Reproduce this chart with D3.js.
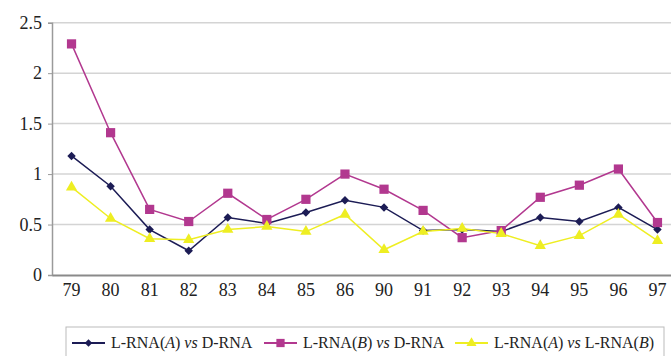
<!DOCTYPE html>
<html><head><meta charset="utf-8">
<script src="https://cdn.jsdelivr.net/npm/d3@7"></script>
<style>body{margin:0;background:#fff}svg{display:block}
svg text{font-family:"Liberation Serif","Times New Roman",Tinos,"DejaVu Serif",serif !important;}</style>
</head><body>
<svg id="c" width="671" height="356"></svg>
<script>
const categories = ["79","80","81","82","83","84","85","86","90","91","92","93","94","95","96","97"];
const seriesA_D = [1.18,0.88,0.45,0.24,0.57,0.51,0.62,0.74,0.67,0.44,0.45,0.43,0.57,0.53,0.67,0.45];
const seriesB_D = [2.29,1.41,0.65,0.53,0.81,0.55,0.75,1.00,0.85,0.64,0.37,0.44,0.77,0.89,1.05,0.52];
const seriesA_B = [0.87,0.56,0.36,0.35,0.45,0.48,0.43,0.60,0.25,0.43,0.46,0.41,0.29,0.39,0.60,0.34];
const yTicks = [0,0.5,1,1.5,2,2.5];

(function(){
const svg = d3.select("#c");
const pLeft = 52, pRight = 677, pTop = 22.7, pBottom = 275;
const x = d3.scaleBand().domain(categories).range([pLeft, pRight]);
const y = d3.scaleLinear().domain([0,2.5]).range([pBottom, pTop]);

svg.append("g").selectAll("line").data(yTicks.filter(d=>d>0)).join("line")
  .attr("x1", pLeft).attr("x2", pRight).attr("y1", d=>y(d)).attr("y2", d=>y(d))
  .attr("stroke", "#d4d4d4").attr("stroke-width", 1.5);

const yAxis = svg.append("g").attr("transform", `translate(${pLeft},0)`)
  .call(d3.axisLeft(y).tickValues(yTicks).tickSize(4).tickPadding(6).tickFormat(d=>String(d)));
yAxis.attr("font-family", null);
yAxis.select(".domain").attr("stroke", "#9a9a9a").attr("stroke-width", 1.5);
yAxis.selectAll(".tick line").attr("stroke", "#9a9a9a");
yAxis.selectAll("text").attr("font-size", 18).attr("fill", "#222");

const xAxis = svg.append("g").attr("transform", `translate(0,${pBottom})`)
  .call(d3.axisBottom(x).tickSize(0).tickPadding(8));
xAxis.attr("font-family", null);
xAxis.select(".domain").attr("stroke", "#8a8a8a").attr("stroke-width", 2);
xAxis.selectAll("text").attr("font-size", 18).attr("fill", "#222");

const cx = d => x(d) + x.bandwidth()/2;
const diamond = {draw(ctx, size){ const r = Math.sqrt(size/2); ctx.moveTo(0,-r); ctx.lineTo(r,0); ctx.lineTo(0,r); ctx.lineTo(-r,0); ctx.closePath(); }};
const series = [
  {values:seriesA_D, color:"#1c1c55", sym:diamond, size:36, lw:1.5},
  {values:seriesB_D, color:"#b2388f", sym:d3.symbolSquare, size:85, lw:1.5},
  {values:seriesA_B, color:"#eeee22", sym:d3.symbolTriangle, size:55, lw:1.5}
];
const line = d3.line().x((d,i)=>cx(categories[i])).y(d=>y(d));
series.forEach(s => {
  svg.append("path").attr("d", line(s.values)).attr("fill","none")
    .attr("stroke", s.color).attr("stroke-width", s.lw);
});
series.forEach(s => {
  svg.append("g").selectAll("path").data(s.values).join("path")
    .attr("d", d3.symbol().type(s.sym).size(s.size))
    .attr("transform", (d,i)=>`translate(${cx(categories[i])},${y(d)})`)
    .attr("fill", s.color);
});

const lg = svg.append("g");
lg.append("rect").attr("x", 66).attr("y", 327).attr("width", 598).attr("height", 40)
  .attr("fill", "#fff").attr("stroke", "#bbb").attr("stroke-width", 1);
const legendItems = [
  {s:series[0], x0:72, parts:[["L-RNA(",""],["A","i"],[") ",""],["vs","i"],[" D-RNA",""]]},
  {s:series[1], x0:264, parts:[["L-RNA(",""],["B","i"],[") ",""],["vs","i"],[" D-RNA",""]]},
  {s:series[2], x0:455, parts:[["L-RNA(",""],["A","i"],[") ",""],["vs","i"],[" L-RNA(",""],["B","i"],[")",""]]}
];
legendItems.forEach(it => {
  const ly = 343;
  lg.append("line").attr("x1", it.x0).attr("x2", it.x0+33).attr("y1", ly).attr("y2", ly)
    .attr("stroke", it.s.color).attr("stroke-width", 2);
  lg.append("path").attr("d", d3.symbol().type(it.s.sym).size(it.s.size*0.8))
    .attr("transform", `translate(${it.x0+16.5},${ly})`).attr("fill", it.s.color);
  const t = lg.append("text").attr("x", it.x0+39).attr("y", ly+5)
    .attr("font-size", 16).attr("fill", "#222")
    .style("white-space","pre");
  it.parts.forEach(p => {
    t.append("tspan").text(p[0]).attr("font-style", p[1]==="i" ? "italic" : "normal");
  });
});
})();
</script>
</body></html>
